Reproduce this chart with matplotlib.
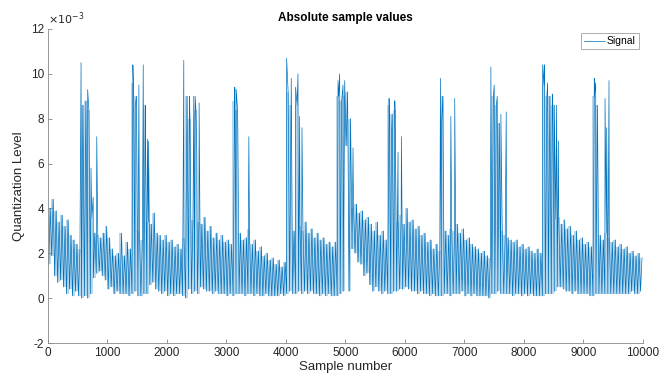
import numpy as np
import matplotlib
matplotlib.use("Agg")
import matplotlib.pyplot as plt

# values, in units of 1e-3
# upper / lower edge of the trace in each block of 50 samples
band_hi = [
    4.0, 4.4, 3.9, 3.4, 3.7, 3.2, 3.5, 2.8, 2.6, 2.4,
    2.2, 8.6, 8.8, 8.4, 3.6, 2.9, 2.8, 2.7, 2.9, 3.2,
    2.7, 2.2, 1.9, 2.0, 2.9, 1.9, 2.5, 2.2, 9.6, 9.0,
    3.0, 2.6, 8.6, 3.4, 3.3, 3.8, 2.9, 2.8, 2.6, 2.8,
    2.5, 2.6, 2.3, 2.4, 2.2, 2.7, 9.0, 8.0, 3.5, 8.4,
    3.4, 3.3, 3.6, 3.0, 3.2, 2.7, 2.9, 2.6, 2.8, 2.5,
    2.6, 2.4, 8.8, 8.4, 2.9, 2.6, 2.7, 3.1, 2.4, 2.6,
    2.1, 2.3, 1.9, 2.0, 1.7, 1.8, 1.5, 1.7, 1.4, 1.6,
    9.2, 8.6, 3.0, 8.6, 3.2, 3.0, 3.4, 2.9, 3.1, 2.7,
    2.9, 2.6, 2.7, 2.4, 2.5, 2.3, 2.5, 9.0, 8.8, 9.0,
    9.2, 8.0, 4.0, 4.2, 3.8, 3.9, 3.5, 3.6, 3.3, 3.0,
    3.4, 2.8, 3.0, 2.6, 8.6, 8.2, 8.4, 3.4, 3.7, 3.3,
    4.0, 3.4, 3.5, 3.1, 3.2, 2.8, 2.9, 2.5, 2.6, 2.2,
    2.4, 2.1, 9.0, 3.0, 2.8, 3.1, 3.0, 3.3, 2.9, 3.1,
    2.6, 2.7, 2.4, 2.3, 2.2, 2.0, 2.1, 1.9, 1.8, 9.0,
    8.6, 7.8, 3.0, 2.8, 2.7, 2.6, 2.5, 2.6, 2.3, 2.4,
    2.2, 2.3, 2.1, 2.0, 2.2, 2.0, 9.5, 9.0, 9.0, 8.6,
    3.5, 3.6, 3.3, 3.5, 3.1, 3.2, 2.8, 3.0, 2.6, 2.7,
    2.4, 2.5, 2.3, 9.0, 8.6, 2.8, 2.6, 2.9, 2.7, 2.5,
    2.6, 2.3, 2.4, 2.2, 2.3, 2.0, 2.1, 1.9, 2.0, 1.8,
]
band_lo = [
    1.5, 1.9, 1.0, 0.7, 0.8, 0.5, 0.2, 0.4, 0.1, 0.3,
    0.1, 0.0, 0.1, 0.0, 0.2, 0.9, 1.1, 1.2, 1.0, 0.8,
    0.4, 0.5, 0.2, 0.3, 0.2, 0.2, 0.2, 0.1, 0.2, 0.3,
    0.1, 0.1, 0.2, 0.2, 0.6, 0.7, 0.4, 0.3, 0.2, 0.3,
    0.1, 0.2, 0.1, 0.2, 0.2, 0.1, 0.0, 0.4, 0.2, 0.3,
    0.2, 0.5, 0.4, 0.3, 0.3, 0.2, 0.3, 0.2, 0.2, 0.2,
    0.1, 0.2, 0.1, 0.2, 0.2, 0.2, 0.1, 0.2, 0.2, 0.1,
    0.2, 0.1, 0.1, 0.2, 0.1, 0.1, 0.1, 0.1, 0.2, 0.1,
    0.2, 0.3, 0.2, 0.2, 0.3, 0.2, 0.3, 0.2, 0.3, 0.2,
    0.2, 0.1, 0.2, 0.1, 0.2, 0.1, 0.1, 0.1, 0.2, 0.3,
    6.8, 0.3, 2.2, 2.0, 1.6, 1.5, 1.0, 1.1, 0.6, 0.3,
    0.5, 0.3, 0.2, 0.3, 0.2, 0.2, 0.3, 0.3, 0.4, 0.4,
    0.5, 0.4, 0.3, 0.3, 0.2, 0.3, 0.2, 0.2, 0.1, 0.2,
    0.1, 0.1, 0.1, 0.2, 0.2, 0.1, 0.2, 0.2, 0.2, 0.3,
    0.1, 0.2, 0.1, 0.2, 0.1, 0.1, 0.1, 0.1, 0.0, 0.2,
    0.2, 0.3, 0.2, 0.2, 0.2, 0.2, 0.1, 0.2, 0.2, 0.1,
    0.2, 0.1, 0.2, 0.1, 0.1, 0.1, 0.1, 0.2, 0.2, 0.2,
    0.3, 0.5, 0.5, 0.4, 0.3, 0.3, 0.2, 0.3, 0.2, 0.2,
    0.2, 0.2, 0.1, 0.1, 0.2, 0.2, 0.2, 0.2, 0.2, 0.2,
    0.2, 0.2, 0.2, 0.2, 0.2, 0.2, 0.3, 0.2, 0.2, 0.3,
]
# isolated tall samples: (sample number, value)
spike_idx = [556, 667, 723, 760, 820, 1427, 1466, 1528, 1601, 1640, 1671, 1691,
             2283, 2378, 2451, 2474, 2502, 2541, 3141, 3164, 3192, 3377,
             4012, 4090, 4163, 4203, 4231, 4270, 4876, 4904, 4960, 4988, 5128,
             5734, 5773, 5830, 5885, 5942, 6598, 6615, 6773, 6838,
             7446, 7502, 7553, 7614, 7704, 8316, 8344, 8400, 8478, 8512, 8551, 8580,
             9185, 9208, 9365, 9393, 9432]
spike_val = [10.5, 9.3, 5.8, 4.5, 7.2, 10.4, 8.5, 9.5, 10.4, 7.0, 7.1, 7.0,
             10.6, 9.0, 9.0, 9.0, 6.5, 8.7, 9.4, 9.3, 7.4, 7.2,
             10.7, 9.8, 9.4, 10.0, 8.1, 7.6, 9.7, 10.0, 9.5, 9.7, 6.7,
             8.9, 7.1, 8.8, 6.5, 7.2, 9.8, 7.7, 8.1, 8.9,
             10.3, 9.5, 9.0, 8.2, 8.3, 10.4, 10.4, 9.6, 9.1, 8.6, 8.6, 7.0,
             9.8, 9.6, 8.9, 7.6, 9.7]

block = 50
xs, ys = [], []
for j, (lo, hi) in enumerate(zip(band_lo, band_hi)):
    xs += [j * block + 12, j * block + 37]
    ys += [lo, hi]
xs = np.array(xs + spike_idx, dtype=float)
ys = np.array(ys + spike_val)
order = np.argsort(xs, kind="stable")
xs, ys = xs[order], ys[order] * 1e-3

# block centres for the shaded body of the trace
xc = np.arange(len(band_hi)) * block + block / 2
lo_a = np.array(band_lo) * 1e-3
hi_a = np.array(band_hi) * 1e-3

plt.rcParams['font.family'] = ['Liberation Sans', 'DejaVu Sans']
fig = plt.figure(figsize=(6.62, 3.83), dpi=100)
ax = fig.add_axes([0.0725, 0.1044, 0.8985, 0.82])

ax.fill_between(xc, lo_a, hi_a, step='mid', color='#0072BD', alpha=0.28,
                linewidth=0)
ax.plot(xs, ys, color='#0072BD', linewidth=0.5, label='Signal')

ax.set_xlim(0, 10000)
ax.set_ylim(-2e-3, 12e-3)
ax.set_xticks(np.arange(0, 10001, 1000))
yt = np.arange(-2, 13, 2)
ax.set_yticks(yt * 1e-3)
ax.set_yticklabels([str(v) for v in yt])

grey = '#262626'
for side in ['top', 'right']:
    ax.spines[side].set_visible(False)
for side in ['left', 'bottom']:
    ax.spines[side].set_color('#888888')
    ax.spines[side].set_linewidth(0.6)
ax.tick_params(direction='in', length=3, width=0.6, color='#888888',
               labelsize=8.5, labelcolor=grey, pad=3)

ax.set_xlabel('Sample number', fontsize=9.5, color=grey, labelpad=1)
ax.set_ylabel('Quantization Level', fontsize=9.5, color=grey, labelpad=4)
ax.set_title('Absolute sample values', fontsize=8.5, fontweight='bold', pad=6)
ax.text(0.0, 1.005, r'$\times10^{-3}$', transform=ax.transAxes, fontsize=8,
        color=grey, ha='left', va='bottom')

leg = ax.legend(loc='upper right', fontsize=7.5, frameon=True, fancybox=False,
                handlelength=2.0, handletextpad=0.2, borderpad=0.3,
                borderaxespad=0.4)
leg.get_frame().set_edgecolor('#888888')
leg.get_frame().set_linewidth(0.6)

fig.savefig('out.png', dpi=100)
